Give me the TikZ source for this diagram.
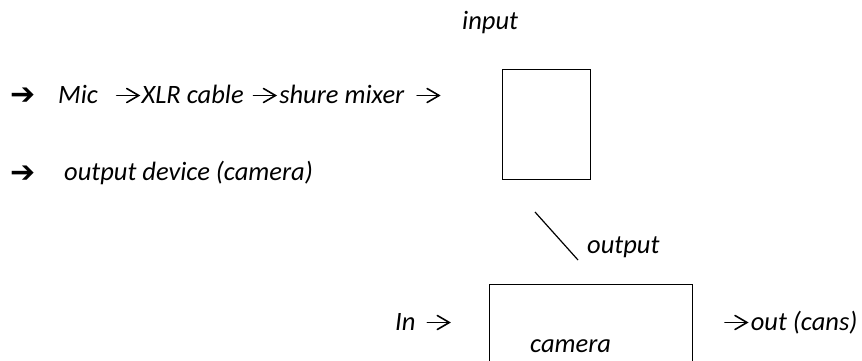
\documentclass[tikz,border=0pt]{standalone}
\usepackage{fontspec}
\setmainfont{Carlito}
\newfontfamily\symfont{DejaVu Sans}
% thin arrow with an open chevron head, set inline with the text
\newcommand\rarr{\tikz[x=1pt,y=1pt,baseline=0pt,line width=1.6pt,line cap=round,line join=miter]{%
  \draw (0,7.5)--(22,7.5); \draw (10,14.5)--(22,7.5)--(10,0.5);}}
\begin{document}
\begin{tikzpicture}[x=1pt,y=-1pt,
  lbl/.style={font=\itshape\fontsize{26.5}{32}\selectfont, inner sep=0pt, anchor=base west},
  bullet/.style={font=\symfont\fontsize{30}{34}\selectfont, inner sep=0pt, anchor=base west},
  frame/.style={draw, line width=1.3pt, inner sep=0pt, anchor=north west},
  link/.style={line width=1.2pt}]
\useasboundingbox (0,0) rectangle (862,361);
\clip (0,0) rectangle (862,361);

% signal chain list
\node[bullet] (b1) at (10,104) {➔};
\node[lbl] (chain) at (58,103) {Mic\hspace{18pt}\rarr\hspace{2pt}XLR cable\hspace{9pt}\rarr\hspace{3pt}shure mixer\hspace{12pt}\rarr};
\node[bullet] (b2) at (10,182) {➔};
\node[lbl] (dev) at (64,180) {output device (camera)};

% mixer box with its input label
\node[lbl] (inlbl) at (462,30) {input};
\node[frame, minimum width=88pt, minimum height=110pt] (mixer) at (502,69) {};

% output link down to the camera
\coordinate (l1) at (535,212);
\coordinate (l2) at (578,260);
\draw[link] (l1) -- (l2);
\node[lbl] (outlbl) at (587,253) {output};

% camera box
\node[frame, minimum width=203pt, minimum height=130pt] (cam) at (489,284) {};
\node[lbl] (camlbl) at (530,352) {camera};
\node[lbl] (inarrow) at (395,330) {In\hspace{11pt}\rarr};
\node[lbl] (outarrow) at (724,330) {\rarr\hspace{3pt}out (cans)};
\end{tikzpicture}
\end{document}
